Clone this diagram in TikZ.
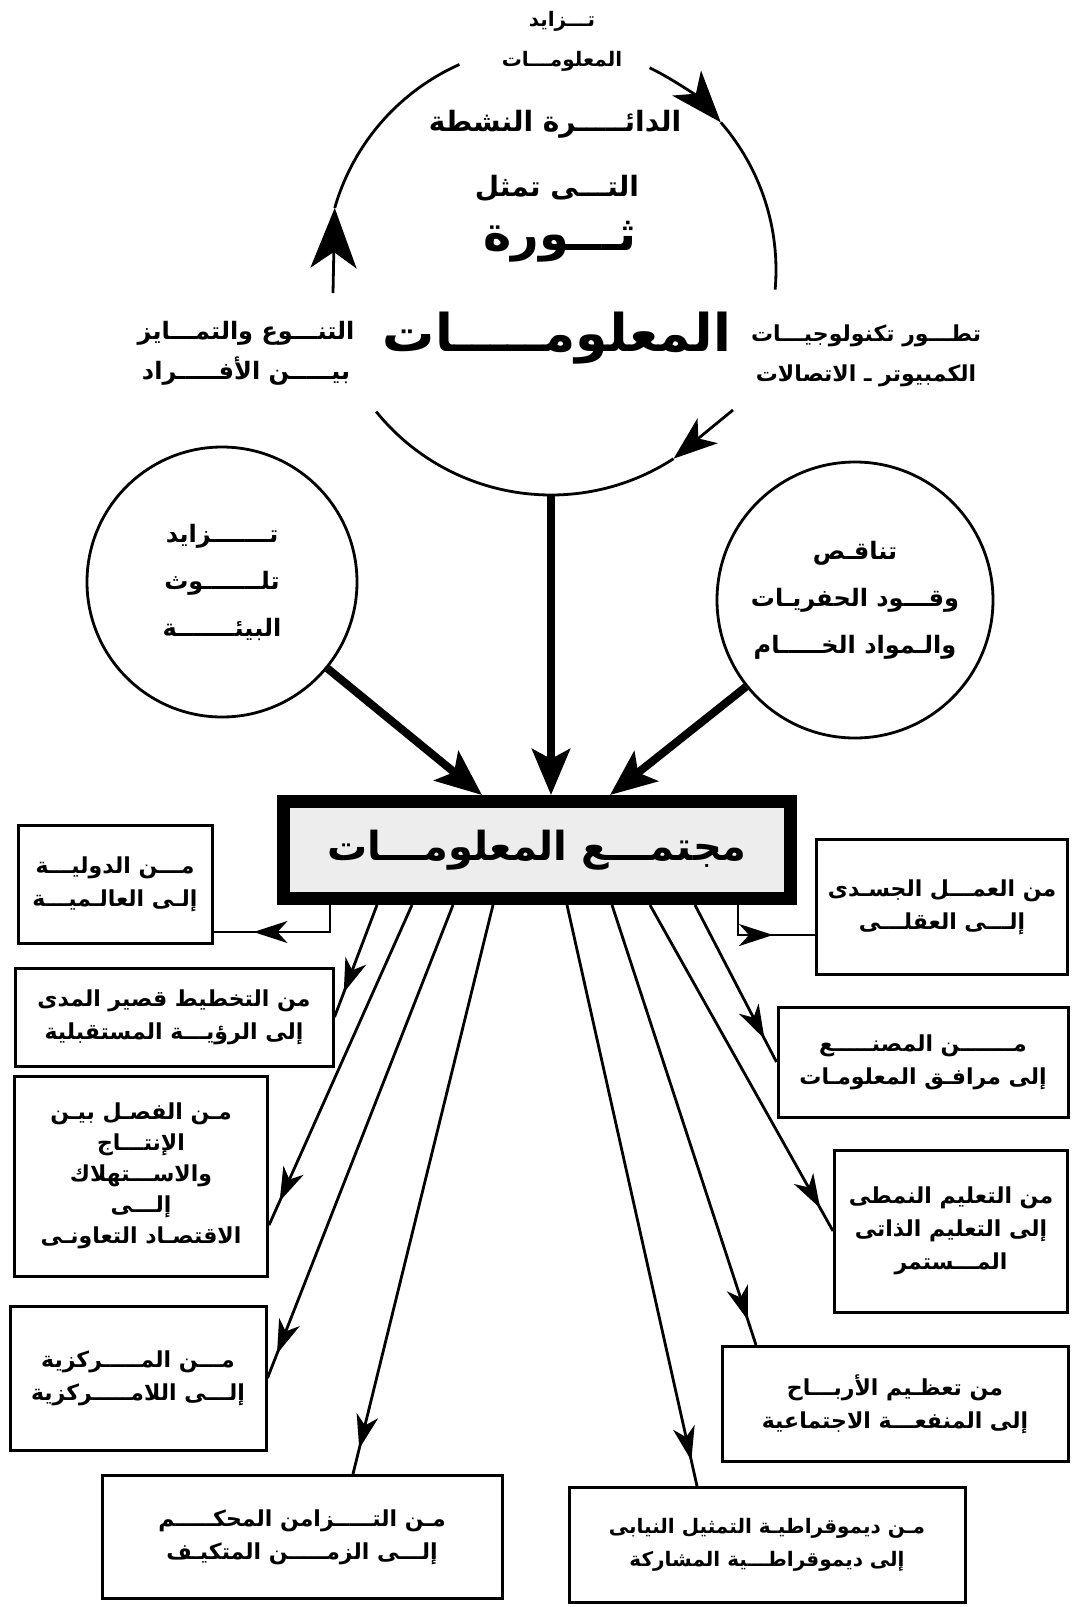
\documentclass[tikz,border=0pt]{standalone}
\usepackage{fontspec}
\setmainfont{DejaVu Sans}
\newfontfamily\arabicfont[Script=Arabic]{DejaVu Sans}
\TeXXeTstate=1
\usetikzlibrary{arrows.meta, positioning, decorations.markings}
\newcommand{\artxt}[1]{\beginR #1\endR}

\begin{document}
\begin{tikzpicture}[
    x=1pt, y=-1pt,
    labeltext/.style={align=center, inner sep=0pt, font=\arabicfont\bfseries\fontsize{22}{40}\selectfont},
    bubble/.style={draw, circle, line width=2.8pt, inner sep=0pt, align=center, font=\arabicfont\bfseries\fontsize{24}{47}\selectfont},
    infobox/.style={draw, line width=3pt, inner sep=4pt, align=center, font=\arabicfont\bfseries\fontsize{22}{33}\selectfont},
    mainbox/.style={draw, line width=13pt, fill=black!7, minimum width=507pt, minimum height=97pt, font=\arabicfont\bfseries\fontsize{40}{48}\selectfont},
    cycleline/.style={line width=2.8pt},
    heavyarrow/.style={line width=8pt, -{Stealth[length=46pt, width=38pt, inset=10pt]}},
    fanline/.style={line width=2.8pt, postaction={decorate}, decoration={markings, mark=at position #1 with {\arrow{Stealth[length=34pt, width=22pt, inset=10pt]}}}},
    fanline/.default=-26pt
]
    \useasboundingbox (0,0) rectangle (1078,1607);

    % The active circle
    \node[circle, minimum size=450pt, inner sep=0pt, outer sep=0pt] (bigc) at (551,270) {};
    \draw[cycleline, -{Stealth[length=52pt, width=38pt, inset=14pt]}] (bigc.64) arc[start angle=64, end angle=41, radius=225pt];
    \draw[cycleline] (bigc.41) arc[start angle=41, end angle=-5, radius=225pt];
    \draw[cycleline] (bigc.114) arc[start angle=114, end angle=164, radius=225pt];
    \draw[cycleline] (bigc.219) arc[start angle=219, end angle=303, radius=225pt];

    % Texts of the circle
    \node[labeltext, font=\arabicfont\bfseries\fontsize{20}{40}\selectfont] (infoup) at (562,41) {\artxt{تـــزايد}\\\artxt{المعلومـــات}};
    \node[labeltext, font=\arabicfont\bfseries\fontsize{28}{30}\selectfont] (activec) at (555,124) {\artxt{الدائـــــرة النشطة}};
    \node[labeltext, font=\arabicfont\bfseries\fontsize{28}{30}\selectfont] (represents) at (557,188) {\artxt{التـــى تمثل}};
    \node[labeltext, font=\arabicfont\bfseries\fontsize{48}{52}\selectfont] (revolution) at (560,242) {\artxt{ثـــورة}};
    \node[labeltext, font=\arabicfont\bfseries\fontsize{52}{56}\selectfont] (infobig) at (557,338) {\artxt{المعلومـــــات}};
    \node[labeltext, font=\arabicfont\bfseries\fontsize{24}{40}\selectfont] (diversity) at (246,353) {\artxt{التنـــوع والتمـــايز}\\\artxt{بيـــــن الأفـــــراد}};
    \node[labeltext] (techdev) at (866,356) {\artxt{تطـــور تكنولوجيـــات}\\\artxt{الكمبيوتر ـ الاتصالات}};

    % Feeding arrows of the cycle
    \coordinate (divtip) at (333,293);
    \coordinate (techtip) at (733,410);
    \draw[cycleline, -{Stealth[length=60pt, width=46pt, inset=16pt]}] (divtip) -- (bigc.164);
    \draw[cycleline, -{Stealth[length=44pt, width=32pt, inset=12pt]}] (techtip) -- (bigc.303);

    % Side circles
    \node[bubble, minimum size=270pt] (pollution) at (222,582) {\artxt{تـــــــزايد}\\\artxt{تلـــــــوث}\\\artxt{البيئـــــــة}};
    \node[bubble, minimum size=276pt] (fuel) at (855,600) {\artxt{تناقـص}\\\artxt{وقـــود الحفريـات}\\\artxt{والـمواد الخـــــام}};

    % Information society
    \node[mainbox] (society) at (537,850) {\artxt{مجتمـــع المعلومـــات}};

    \draw[heavyarrow] (bigc.south) -- (bigc.south |- society.north);
    \draw[heavyarrow] (pollution) -- ([xshift=-55pt]society.north);
    \draw[heavyarrow] (fuel) -- ([xshift=73pt]society.north);

    % Shifts, left column
    \node[infobox, minimum width=194pt, minimum height=118pt] (globalism) at (115,884) {\artxt{مـــن الدوليـــة}\\\artxt{إلـى العالـميـــة}};
    \node[infobox, minimum width=318pt, minimum height=98pt] (planning) at (174,1017) {\artxt{من التخطيط قصير المدى}\\\artxt{إلى الرؤيـــة المستقبلية}};
    \node[infobox, minimum width=253pt, minimum height=200pt, font=\arabicfont\bfseries\fontsize{22}{31}\selectfont] (economy) at (141,1176) {\artxt{مـن الفصـل بيـن}\\\artxt{الإنتـــاج}\\\artxt{والاســـتهلاك}\\\artxt{إلـــى}\\\artxt{الاقتصـاد التعاونـى}};
    \node[infobox, minimum width=256pt, minimum height=144pt] (decentral) at (138,1378) {\artxt{مـــن المـــــركزية}\\\artxt{إلـــى اللامـــــركزية}};
    \node[infobox, minimum width=400pt, minimum height=123pt] (timing) at (302,1537) {\artxt{مـن التـــــزامن المحكـــــم}\\\artxt{إلـــى الزمـــــن المتكيـف}};

    % Shifts, right column
    \node[infobox, minimum width=251pt, minimum height=135pt] (mental) at (942,907) {\artxt{من العمـــل الجسـدى}\\\artxt{إلـــى العقلـــى}};
    \node[infobox, minimum width=290pt, minimum height=110pt] (facilities) at (923,1062) {\artxt{مـــــــن المصنـــــع}\\\artxt{إلى مرافـق المعلومـات}};
    \node[infobox, minimum width=233pt, minimum height=162pt] (learning) at (951,1231) {\artxt{من التعليم النمطى}\\\artxt{إلى التعليم الذاتى}\\\artxt{المـــستمر}};
    \node[infobox, minimum width=346pt, minimum height=115pt] (benefit) at (895,1404) {\artxt{من تعظـيم الأربـــاح}\\\artxt{إلى المنفعـــة الاجتماعية}};
    \node[infobox, minimum width=396pt, minimum height=115pt, font=\arabicfont\bfseries\fontsize{20}{33}\selectfont] (democracy) at (767,1545) {\artxt{مـن ديموقراطيـة التمثيل النيابى}\\\artxt{إلى ديموقراطـــية المشاركة}};

    % Elbow links
    \draw[fanline=-40pt] ([xshift=-207pt]society.south) |- ([yshift=-48pt]globalism.east);
    \draw[fanline=-42pt] ([xshift=201pt]society.south) |- ([yshift=-28pt]mental.west);

    % Fan of links
    \draw[fanline] ([xshift=-160pt]society.south) -- (planning.east);
    \draw[fanline] ([xshift=-125pt]society.south) -- (economy.-21);
    \draw[fanline] ([xshift=-84pt]society.south) -- (decentral.east);
    \draw[fanline] ([xshift=-44pt]society.south) -- ([xshift=51pt]timing.north);
    \draw[fanline] ([xshift=30pt]society.south) -- ([xshift=-70pt]democracy.north);
    \draw[fanline] ([xshift=75pt]society.south) -- ([xshift=-139pt]benefit.north);
    \draw[fanline] ([xshift=113pt]society.south) -- (learning.west);
    \draw[fanline] ([xshift=158pt]society.south) -- (facilities.west);
\end{tikzpicture}
\end{document}
